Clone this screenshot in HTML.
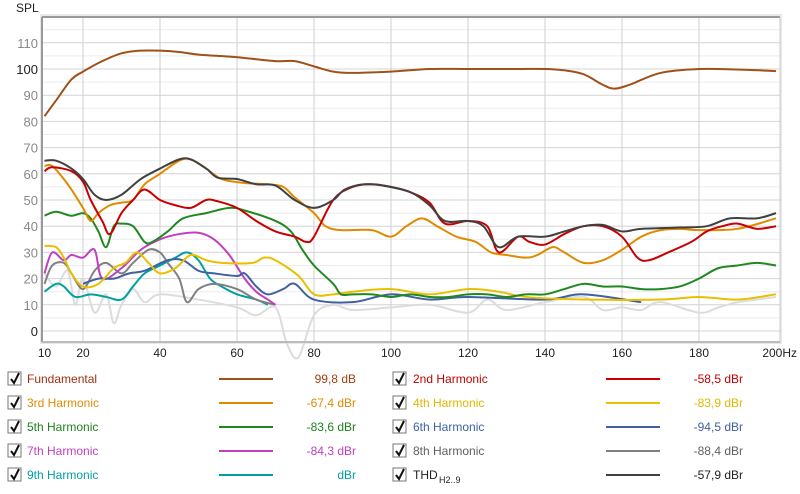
<!DOCTYPE html>
<html><head><meta charset="utf-8"><style>
body{margin:0;background:#fff;width:800px;height:489px;overflow:hidden;font-family:"Liberation Sans",sans-serif}
svg text{font-family:"Liberation Sans",sans-serif}
</style></head><body>
<svg id="s" width="800" height="489" xmlns="http://www.w3.org/2000/svg">
<rect x="40" y="14" width="742" height="330" fill="#e8e8e8"/>
<rect x="43" y="17" width="737" height="325" fill="#fff"/>
<g id="grid"></g>
<g id="series" fill="none" stroke-width="2" stroke-linejoin="round"></g>
<line x1="42" y1="17" x2="42" y2="342" stroke="#999" stroke-width="2"/>
<line x1="42" y1="17" x2="780" y2="17" stroke="#999" stroke-width="2"/>
<line x1="780" y1="17" x2="780" y2="342" stroke="#ccc"/>
<line x1="42" y1="342" x2="780" y2="342" stroke="#bbb" stroke-width="2"/>
<text x="16" y="12" font-size="12" fill="#222">SPL</text>
<g id="lbl" font-size="12"></g>
<g id="leg" font-size="12"></g>
</svg>
<script>
const NS="http://www.w3.org/2000/svg";
const X=f=>44.5+3.85*(f-10), Y=v=>331-2.62*v;
function el(p,t,a,txt){const e=document.createElementNS(NS,t);for(const k in a)e.setAttribute(k,a[k]);if(txt!=null)e.textContent=txt;document.getElementById(p).appendChild(e);return e;}
for(let v=-5;v<=115;v+=5){const y=Y(v);if(y<18||y>341)continue;el("grid","line",{x1:43,x2:780,y1:y,y2:y,stroke:v%10==0?"#d4d4d4":"#ececec"});}
for(let f=20;f<200;f+=20){el("grid","line",{x1:X(f),x2:X(f),y1:17,y2:342,stroke:"#cfcfcf"});}
for(let v=0;v<=110;v+=10){el("lbl","text",{x:38,y:Y(v)+5,"text-anchor":"end",fill:v==100||v==0?"#222":"#888","font-size":13},v);}
[10,20,40,60,80,100,120,140,160,180].forEach(f=>el("lbl","text",{x:X(f),y:357,"text-anchor":"middle",fill:"#222"},f));
el("lbl","text",{x:797,y:357,"text-anchor":"end",fill:"#222"},"200Hz");
function path(pts){const P=pts.map(p=>[X(p[0]),Y(p[1])]);let d="M"+P[0][0]+","+P[0][1];for(let i=0;i<P.length-1;i++){const p0=P[i-1]||P[i],p1=P[i],p2=P[i+1],p3=P[i+2]||p2;d+=` C${p1[0]+(p2[0]-p0[0])/6},${p1[1]+(p2[1]-p0[1])/6} ${p2[0]-(p3[0]-p1[0])/6},${p2[1]-(p3[1]-p1[1])/6} ${p2[0]},${p2[1]}`;}return d;}
const S=[
["#dcdcdc",[[10,22],[13,17],[16,23],[18,10],[20,20],[23,7],[26,14],[28,3],[30,10],[33,16],[36,11],[40,14],[50,12],[60,9],[65,6],[70,9],[73,-5],[76,-10],[80,6],[85,10],[90,8],[100,9],[110,10],[120,7],[125,12],[130,8],[140,11],[150,13],[155,8],[160,9],[165,8],[170,11],[180,7],[185,9],[190,11],[195,12],[200,13]]],
["#00a0a0",[[10,15],[13,18],[15,17],[18,13],[22,14],[26,13],[30,12],[33,17],[36,22],[40,25],[44,28],[47,30],[50,27],[53,20],[56,17],[60,14],[65,12],[68,10]]],
["#808080",[[10,18],[12,25],[15,26],[17,22],[20,16],[23,23],[26,26],[30,22],[33,26],[37,31],[40,30],[42,26],[45,20],[47,11],[50,16],[54,18],[60,16],[65,12],[70,10]]],
["#c040c0",[[10,22],[12,30],[15,27],[17,29],[20,28],[23,31],[25,20],[30,24],[35,31],[40,35],[45,37],[50,37.5],[54,35],[58,29],[62,20],[65,15],[68,12],[70,10]]],
["#4060a0",[[20,18],[24,20],[28,20],[32,22],[36,23],[42,27],[46,27],[50,23],[54,22],[60,21],[62,22],[65,17],[68,14],[72,16],[75,18],[80,12],[90,11],[100,14],[110,12],[120,13],[140,12],[150,14],[165,11]]],
["#e8c000",[[10,32.5],[13,32],[15,28],[17,22],[20,17],[24,18],[28,24],[31,26],[34,30],[37,26],[40,22],[44,24],[48,29],[52,27],[56,26],[64,26],[67,28],[70,27],[76,21],[80,14],[85,14],[90,15],[100,16],[110,14],[120,16],[128,15],[135,13],[150,12],[170,12],[180,13],[190,12],[200,14]]],
["#208820",[[10,44],[13,45.5],[17,44],[20,45],[22,43],[24,38],[26,32],[28,40],[30,41],[33,40],[36,34],[38,34],[42,38],[46,43],[52,45],[58,47],[62,46],[70,42],[74,38],[77,31],[80,25],[85,18],[87,14],[90,14],[95,14],[100,13],[105,14],[110,13],[115,13],[120,14],[125,14],[130,13],[135,14],[140,14],[145,16],[150,18],[155,17],[160,17],[165,16],[170,16],[175,17],[180,20],[185,24],[190,25],[195,26],[200,25]]],
["#e08a00",[[10,63],[12,63],[15,58],[17,54],[20,47],[22,42],[24,45],[27,48],[30,49],[33,50],[36,56],[40,60],[45,65],[48,65.5],[52,62],[56,58],[62,56.5],[68,56],[72,55],[75,51],[80,45],[83,40],[87,38.5],[95,38.5],[100,36],[104,40],[108,43],[112,40],[117,36],[122,34],[126,30],[130,29],[135,28],[138,29],[142,32],[145,30],[150,26],[155,27],[160,31],[165,36],[170,38.5],[175,39],[180,38.5],[190,39],[200,43]]],
["#c80000",[[10,61],[12,62.5],[17,61],[20,57],[22,50],[25,42],[27,37],[30,45],[33,50],[36,54],[40,50],[44,48],[48,47],[52,50],[55,49.5],[60,47],[65,42],[70,38],[75,36],[78,34],[80,36],[85,50],[90,55],[95,56],[100,55],[105,53],[110,49],[114,41],[120,42],[125,40],[128,30],[133,36],[136,34],[140,33],[145,37],[150,40],[155,40],[160,36],[164,28],[167,27],[172,30],[178,34],[182,38],[186,40],[190,41],[195,39],[200,40]]],
["#404040",[[10,65],[13,65],[17,62],[20,58],[23,52],[26,50],[30,52],[35,58],[40,62],[45,65.5],[48,65.5],[52,62],[55,58.5],[60,58],[65,56],[70,55.5],[75,50],[80,47],[85,50],[88,54],[93,56],[98,55.5],[105,53],[110,48],[114,42],[120,42],[124,40],[128,32],[133,36],[140,36],[145,38],[150,40],[155,40.5],[160,38],[165,39],[175,39.5],[182,40],[188,43],[195,43],[200,45]]],
["#a0501a",[[10,82],[13,88],[17,96],[20,99],[25,103],[30,106],[35,107],[40,107],[45,106.5],[50,105.5],[60,104.5],[70,103],[75,103],[80,101],[85,99],[90,98.5],[100,99],[110,100],[120,100],[130,100],[140,100],[145,99.5],[150,98],[155,94],[158,92.5],[162,94],[170,98.5],[180,100],[190,99.8],[200,99.2]]]
];
S.forEach(s=>el("series","path",{d:path(s[1]),stroke:s[0]}));
const L=[["Fundamental","#a0501a","99,8 dB","#a03010","#a04010"],["2nd Harmonic","#c80000","-58,5 dBr","#c00000","#c00000"],
["3rd Harmonic","#e08a00","-67,4 dBr","#e08a00","#e08a00"],["4th Harmonic","#e8c000","-83,9 dBr","#e0b800","#e0b800"],
["5th Harmonic","#208820","-83,6 dBr","#208020","#208020"],["6th Harmonic","#4060a0","-94,5 dBr","#4060a0","#4060a0"],
["7th Harmonic","#c040c0","-84,3 dBr","#c040c0","#c040c0"],["8th Harmonic","#808080","-88,4 dBr","#606060","#606060"],
["9th Harmonic","#00a0a0","dBr","#00a0a0","#00a0a0"],["THD","#404040","-57,9 dBr","#222","#222"]];
L.forEach((l,i)=>{const c=i%2,r=Math.floor(i/2),y=379+r*24;const bx=c?393:8,lx=c?413:27,x1=c?606:219,vx=c?743:356;
el("leg","rect",{x:bx,y:y-7,width:13,height:13,fill:"#fff",stroke:"#777"});
el("leg","path",{d:`M${bx+3},${y} L${bx+6},${y+4} L${bx+11},${y-6}`,stroke:"#111","stroke-width":2,fill:"none"});
const t=el("leg","text",{x:lx,y:y+4,fill:l[3]},l[0]);
if(l[0]=="THD"){el("leg","text",{x:lx+26,y:y+8,fill:"#222","font-size":9},"H2..9");}
el("leg","line",{x1:x1,x2:x1+54,y1:y,y2:y,stroke:l[1],"stroke-width":2});
el("leg","text",{x:vx,y:y+4,"text-anchor":"end",fill:l[4]},l[2]);});
</script>
</body></html>
